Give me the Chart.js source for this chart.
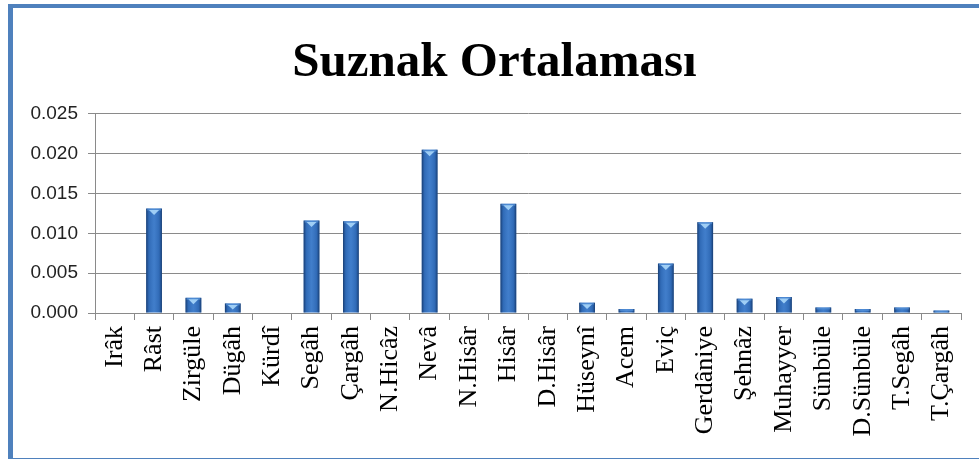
<!DOCTYPE html>
<html>
<head>
<meta charset="utf-8">
<script src="https://cdn.jsdelivr.net/npm/chart.js@4/dist/chart.umd.min.js"></script>
<style>
    body {
        margin: 0;
        background: #ffffff;
        width: 979px;
        height: 459px;
        overflow: hidden;
        position: relative;
    }
    #frame {
        position: absolute;
        left: 8px;
        top: 4px;
        width: 990px;
        height: 450px;
        border-top: 4px solid #4f81bd;
        border-left: 5px solid #4f81bd;
        border-bottom: 2px solid #4f81bd;
    }
    #plot {
        position: absolute;
        left: 0;
        top: 0;
    }
</style>
</head>
<body>
<div id="frame"></div>
<canvas id="plot" width="979" height="459"></canvas>
<script>
// makam names along the x axis
const categories = [
    "Irâk", "Râst", "Zirgüle", "Dügâh", "Kürdî", "Segâh", "Çargâh", "N.Hicâz",
    "Nevâ", "N.Hisâr", "Hisâr", "D.Hisâr", "Hüseynî", "Acem", "Eviç", "Gerdâniye",
    "Şehnâz", "Muhayyer", "Sünbüle", "D.Sünbüle", "T.Segâh", "T.Çargâh"
];
// average values
const averages = [
    0.00005, 0.0131, 0.0019, 0.0012, 0.00005, 0.0116, 0.0115, 0.00005,
    0.0205, 0.00005, 0.0137, 0.00005, 0.0013, 0.0005, 0.0062, 0.0114,
    0.0018, 0.0020, 0.0007, 0.0005, 0.0007, 0.0003
];
const yTicks = [0, 0.005, 0.010, 0.015, 0.020, 0.025];

const serif = "'Liberation Serif', 'Times New Roman', serif";
const sans = "'Liberation Sans', Arial, sans-serif";
const gridColor = "#8a8a8a";

// gives the flat bars a rounded, shaded look with a light notch on top
const barShading = {
    id: "barShading",
    afterDatasetsDraw(chart) {
        const {ctx} = chart;
        const meta = chart.getDatasetMeta(0);
        meta.data.forEach((bar) => {
            const {x, y, base, width} = bar.getProps(["x", "y", "base", "width"], true);
            const h = base - y;
            if (h < 1) return;
            const left = x - width / 2;
            ctx.save();
            const g = ctx.createLinearGradient(left, 0, left + width, 0);
            g.addColorStop(0, "rgba(10,35,75,0.7)");
            g.addColorStop(0.18, "rgba(20,60,120,0.2)");
            g.addColorStop(0.5, "rgba(120,170,230,0.15)");
            g.addColorStop(0.82, "rgba(20,60,120,0.2)");
            g.addColorStop(1, "rgba(10,35,75,0.7)");
            ctx.fillStyle = g;
            ctx.fillRect(left, y, width, h);
            // top cap
            ctx.fillStyle = "rgba(90,150,220,0.6)";
            ctx.fillRect(left + 1, y, width - 2, Math.min(2, h));
            if (h > 6) {
                const th = Math.min(5, h / 2);
                ctx.beginPath();
                ctx.moveTo(x - width * 0.32, y + 1.5);
                ctx.lineTo(x + width * 0.32, y + 1.5);
                ctx.lineTo(x, y + 1.5 + th);
                ctx.closePath();
                ctx.fillStyle = "rgba(170,215,250,0.9)";
                ctx.fill();
            }
            ctx.restore();
        });
    }
};

new Chart(document.getElementById("plot"), {
    type: "bar",
    data: {
        labels: categories,
        datasets: [{
            label: "Suznak Ortalaması",
            data: averages,
            backgroundColor: "#3776c6",
            borderWidth: 0,
            barPercentage: 0.4,
            categoryPercentage: 1.0
        }]
    },
    options: {
        responsive: false,
        animation: false,
        events: [],
        layout: {
            // a bit of left padding nudges the title centre right (labels still fit in the y box)
            padding: {left: 27, right: 17, top: 0, bottom: 0}
        },
        plugins: {
            legend: {display: false},
            tooltip: {enabled: false},
            title: {
                display: true,
                text: "Suznak Ortalaması",
                color: "#000000",
                font: {family: serif, size: 49, weight: "bold", lineHeight: 1.2},
                padding: {top: 34, bottom: 21}
            }
        },
        scales: {
            x: {
                afterFit: (scale) => { scale.height = 146; },
                grid: {
                    display: true,
                    drawOnChartArea: false,
                    drawTicks: true,
                    tickLength: 7,
                    color: gridColor,
                    offset: true
                },
                border: {display: true, color: gridColor},
                ticks: {
                    color: "#000000",
                    font: {family: serif, size: 26},
                    minRotation: 90,
                    maxRotation: 90,
                    autoSkip: false,
                    padding: 6
                }
            },
            y: {
                min: 0,
                max: 0.025,
                afterFit: (scale) => { scale.width = 68; },
                afterBuildTicks: (scale) => {
                    scale.ticks = yTicks.map((v) => ({value: v}));
                },
                grid: {
                    color: gridColor,
                    tickLength: 7
                },
                border: {display: true, color: gridColor},
                ticks: {
                    color: "#222222",
                    font: {family: sans, size: 19},
                    padding: 10,
                    callback: (v) => v.toFixed(3)
                }
            }
        }
    },
    plugins: [barShading]
});
</script>
</body>
</html>
